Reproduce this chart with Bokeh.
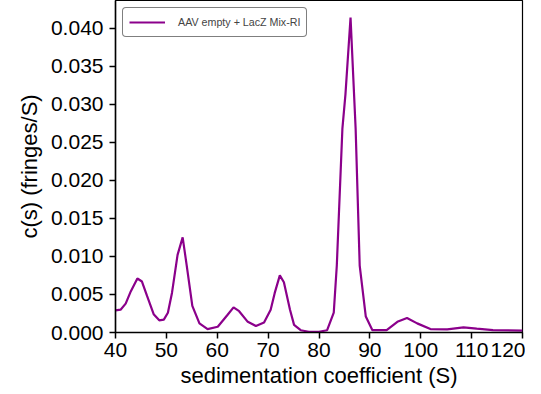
from bokeh.plotting import figure
from bokeh.models import FixedTicker, NumeralTickFormatter, Range1d, Legend, LegendItem
from bokeh.embed import file_html
from bokeh.resources import INLINE

s_values = [40, 41, 42, 43, 44.3, 45.2, 46.2, 47.5, 48.6, 49.5, 50.3, 51.1, 52.2, 53.2, 54.0,
            55.1, 56.5, 58.1, 60.1, 62.0, 63.2, 64.3, 66.0, 67.6, 69.2, 70.5, 71.3, 72.3, 73.1,
            74.3, 75.1, 76.4, 78, 80, 81.6, 82.9, 83.5, 84.6, 85.2, 86.2, 87.2, 88.0, 89.2,
            90.5, 93.3, 95.4, 97.3, 99.3, 101.9, 105.2, 108.4, 111, 114.2, 120]
c_values = [0.0029, 0.0030, 0.0038, 0.0054, 0.0071, 0.0067, 0.0048, 0.0024, 0.0016, 0.0017,
            0.0026, 0.0052, 0.0102, 0.0125, 0.0088, 0.0035, 0.0012, 0.00045, 0.00075, 0.0023,
            0.0033, 0.0028, 0.0014, 0.00085, 0.0013, 0.0030, 0.0052, 0.0075, 0.0066, 0.0030,
            0.0010, 0.0003, 0.0001, 0.0001, 0.0003, 0.0026, 0.0088, 0.0268, 0.0313, 0.0414,
            0.0268, 0.0088, 0.0021, 0.0003, 0.0003, 0.0014, 0.0019, 0.0012, 0.00045, 0.0004,
            0.00067, 0.0005, 0.0003, 0.00025]
x_ticks = [40, 50, 60, 70, 80, 90, 100, 110, 120]
y_ticks = [0.000, 0.005, 0.010, 0.015, 0.020, 0.025, 0.030, 0.035, 0.040]
series_label = "AAV empty + LacZ Mix-RI"

FONT = "Liberation Sans"

p = figure(width=525, height=390, output_backend="svg", toolbar_location=None,
           x_range=Range1d(40, 120), y_range=Range1d(0, 0.04363),
           min_border_left=115, min_border_right=3, min_border_top=0, min_border_bottom=10)

r = p.line(s_values, c_values, line_color="#8B008B", line_width=2.2)

p.xgrid.visible = False
p.ygrid.visible = False
p.outline_line_color = "black"
p.outline_line_width = 1.2

for ax in (p.xaxis[0], p.yaxis[0]):
    ax.axis_line_color = "black"
    ax.axis_line_width = 1.5
    ax.major_tick_line_width = 1.5
    ax.major_tick_out = 6
    ax.major_tick_in = 0
    ax.minor_tick_out = 0
    ax.minor_tick_in = 0
    ax.major_label_text_font = FONT
    ax.major_label_text_font_size = "21px"
    ax.major_label_text_color = "black"
    ax.axis_label_text_font = FONT
    ax.axis_label_text_font_size = "22px"
    ax.axis_label_text_font_style = "normal"
    ax.axis_label_text_color = "black"

p.xaxis[0].ticker = FixedTicker(ticks=x_ticks)
p.yaxis[0].ticker = FixedTicker(ticks=y_ticks)
p.yaxis[0].formatter = NumeralTickFormatter(format="0.000")
p.xaxis[0].axis_label = "sedimentation coefficient (S)"
p.yaxis[0].axis_label = "c(s) (fringes/S)"
p.xaxis[0].major_label_standoff = 4
p.yaxis[0].major_label_standoff = 6
p.xaxis[0].axis_label_standoff = 3
p.yaxis[0].axis_label_standoff = 6

legend = Legend(items=[LegendItem(label=series_label, renderers=[r])],
                location="top_left", margin=7, padding=6, spacing=0,
                glyph_width=36, glyph_height=16, label_height=16, label_standoff=13,
                label_text_font=FONT, label_text_font_size="10.7px",
                border_line_color="black", border_line_width=1,
                background_fill_alpha=1)
try:
    legend.border_radius = 4
except Exception:
    pass
p.add_layout(legend)

open("out.html", "w").write(file_html(p, INLINE))
